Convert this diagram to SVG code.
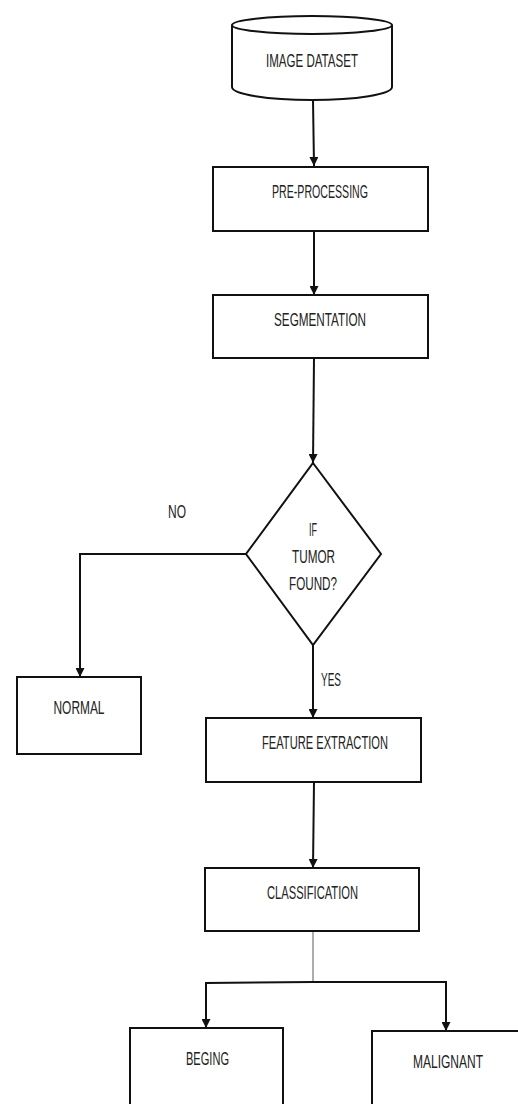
<svg xmlns="http://www.w3.org/2000/svg" width="518" height="1104" viewBox="0 0 518 1104">
<style>
.box{fill:#fff;stroke:#111;stroke-width:2}
.ln{fill:none;stroke:#111;stroke-width:2}
.thin{fill:none;stroke:#777;stroke-width:1.2}
.t{font-family:"Liberation Sans",Arial,sans-serif;font-size:18.5px;fill:#222;text-anchor:middle}
</style>
<defs>
<marker id="ah" viewBox="0 0 10 10" refX="10" refY="5" markerWidth="9" markerHeight="9" markerUnits="userSpaceOnUse" orient="auto">
<path d="M0,0 L10,5 L0,10 z" fill="#111"/>
</marker>
</defs>
<rect width="518" height="1104" fill="#fff"/>
<g id="connectors">
<path class="ln" d="M313,100 L314,166" marker-end="url(#ah)"/>
<path class="ln" d="M314,231 L314,295" marker-end="url(#ah)"/>
<path class="ln" d="M314,358 L313,463" marker-end="url(#ah)"/>
<path class="ln" d="M246,554 L80,554 L80,677" marker-end="url(#ah)"/>
<path class="ln" d="M313,645 L313,718" marker-end="url(#ah)"/>
<path class="ln" d="M314,782 L313,868" marker-end="url(#ah)"/>
<path class="thin" d="M313,931 L313,983"/>
<path class="ln" d="M313,982 L206,983 L206,1028" marker-end="url(#ah)"/>
<path class="ln" d="M313,982 L446,982 L446,1031" marker-end="url(#ah)"/>
</g>
<g id="image-dataset">
<path class="box" d="M232,25 L232,87 A80,13 0 0 0 392,87 L392,25"/>
<ellipse class="box" cx="312" cy="25" rx="80" ry="9"/>
<text class="t" x="312" y="67" textLength="92" lengthAdjust="spacingAndGlyphs">IMAGE DATASET</text>
</g>
<g id="pre-processing">
<rect class="box" x="213" y="167" width="215" height="64"/>
<text class="t" x="320" y="198" textLength="96" lengthAdjust="spacingAndGlyphs">PRE-PROCESSING</text>
</g>
<g id="segmentation">
<rect class="box" x="213" y="295" width="215" height="63"/>
<text class="t" x="320" y="326" textLength="92" lengthAdjust="spacingAndGlyphs">SEGMENTATION</text>
</g>
<g id="decision">
<path class="box" d="M313,463 L381,554 L313,645 L246,554 z"/>
<text class="t" x="313" y="536" textLength="8" lengthAdjust="spacingAndGlyphs">IF</text>
<text class="t" x="313.5" y="563" textLength="43" lengthAdjust="spacingAndGlyphs">TUMOR</text>
<text class="t" x="313" y="590" textLength="48" lengthAdjust="spacingAndGlyphs">FOUND?</text>
</g>
<g id="labels">
<text class="t" x="177" y="518" textLength="18" lengthAdjust="spacingAndGlyphs">NO</text>
<text class="t" x="331" y="686" textLength="20" lengthAdjust="spacingAndGlyphs">YES</text>
</g>
<g id="normal">
<rect class="box" x="17" y="677" width="124" height="77"/>
<text class="t" x="79" y="714" textLength="51" lengthAdjust="spacingAndGlyphs">NORMAL</text>
</g>
<g id="feature-extraction">
<rect class="box" x="206" y="718" width="215" height="64"/>
<text class="t" x="325" y="749" textLength="126" lengthAdjust="spacingAndGlyphs">FEATURE EXTRACTION</text>
</g>
<g id="classification">
<rect class="box" x="205" y="868" width="214" height="63"/>
<text class="t" x="312.5" y="899" textLength="91" lengthAdjust="spacingAndGlyphs">CLASSIFICATION</text>
</g>
<g id="beging">
<rect class="box" x="130" y="1028" width="153" height="80"/>
<text class="t" x="207.5" y="1065" textLength="43" lengthAdjust="spacingAndGlyphs">BEGING</text>
</g>
<g id="malignant">
<rect class="box" x="372" y="1031" width="160" height="80"/>
<text class="t" x="448" y="1068" textLength="70" lengthAdjust="spacingAndGlyphs">MALIGNANT</text>
</g>
</svg>
